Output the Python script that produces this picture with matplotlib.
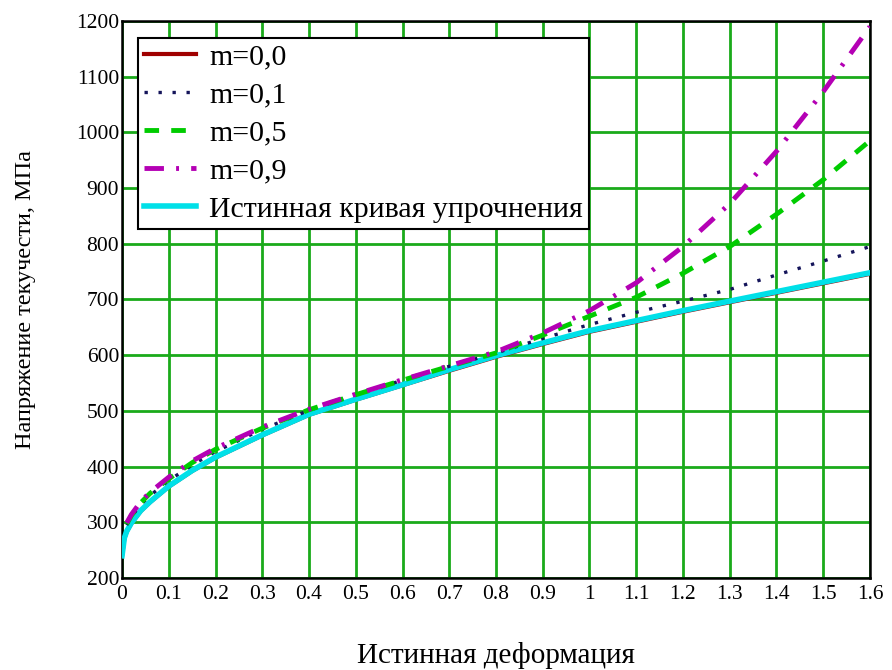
import matplotlib
matplotlib.use('Agg')
import matplotlib.pyplot as plt

plt.rcParams['font.family'] = ['Liberation Serif', 'DejaVu Serif']

# strain values (true curve / m=0 model)
eps_true = [0, 0.005, 0.01, 0.02, 0.04, 0.06, 0.1, 0.15, 0.2, 0.3, 0.4, 0.5,
            0.6, 0.7, 0.8, 0.9, 1.0, 1.1, 1.2, 1.3, 1.4, 1.5, 1.6]
sigma_true = [240, 272, 284, 299, 321, 337, 365, 393, 417, 457, 494, 521,
              547, 574, 599, 622, 644, 662, 680, 697, 714, 731, 748]
sigma_m00 = [239, 271, 283, 298, 320, 336, 364, 392, 416, 456, 493, 520,
             546, 572, 597, 620, 642, 660, 678, 695, 712, 729, 746]

# strain values for the other models
eps_m = [0.01, 0.02, 0.04, 0.06, 0.1, 0.15, 0.2, 0.3, 0.4, 0.5, 0.6, 0.7,
         0.8, 0.9, 1.0, 1.1, 1.2, 1.3, 1.4, 1.5, 1.6]
sigma_m01 = [295, 310, 332, 348, 375, 403, 427, 467, 501, 529, 555, 580,
             604, 630, 655, 677, 697, 718, 744, 769, 795]
sigma_m05 = [297, 312, 335, 352, 378, 407, 431, 469, 502, 529, 555, 580,
             604, 636, 670, 704, 747, 795, 853, 915, 985]
sigma_m09 = [299, 314, 337, 354, 381, 410, 433, 471, 503, 530, 556, 581,
             606, 640, 680, 730, 795, 872, 966, 1073, 1190]

x_ticks = [0, 0.1, 0.2, 0.3, 0.4, 0.5, 0.6, 0.7, 0.8, 0.9, 1.0, 1.1, 1.2,
           1.3, 1.4, 1.5, 1.6]
x_ticklabels = ['0', '0.1', '0.2', '0.3', '0.4', '0.5', '0.6', '0.7', '0.8',
                '0.9', '1', '1.1', '1.2', '1.3', '1.4', '1.5', '1.6']
y_ticks = [200, 300, 400, 500, 600, 700, 800, 900, 1000, 1100, 1200]

fig = plt.figure(figsize=(8.92, 6.7), dpi=100)
ax = fig.add_axes([0.1368, 0.1373, 0.8385, 0.8314])

ax.plot(eps_true, sigma_m00, color='#a00000', lw=3, label='m=0,0', zorder=3)
ax.plot(eps_m, sigma_m01, color='#14145a', lw=2.4, ls=(0, (1, 3.2)),
        label='m=0,1', zorder=4)
ax.plot(eps_m, sigma_m05, color='#00cc00', lw=3.5, ls=(0, (3, 2.5)),
        label='m=0,5', zorder=4)
ax.plot(eps_m, sigma_m09, color='#b400b4', lw=3.5, ls=(0, (4, 2.5, 0.6, 2.5)),
        label='m=0,9', zorder=4)
ax.plot(eps_true, sigma_true, color='#00e0e8', lw=4,
        label='Истинная кривая упрочнения', zorder=3.5)

ax.set_xlim(0, 1.6)
ax.set_ylim(200, 1200)
ax.set_xticks(x_ticks)
ax.set_xticklabels(x_ticklabels, fontsize=15.5)
ax.set_yticks(y_ticks)
ax.tick_params(axis='y', labelsize=15.5, pad=2)
ax.tick_params(axis='x', pad=5)
ax.tick_params(length=0)
ax.grid(True, color='#1aaa1a', lw=2, zorder=0)
ax.set_axisbelow(True)
for s in ax.spines.values():
    s.set_color('black')
    s.set_linewidth(1.8)

ax.set_xlabel('Истинная деформация', fontsize=21)
ax.set_ylabel('Напряжение текучести, МПа', fontsize=17.5)
ax.xaxis.set_label_coords(0.5, -0.114)
ax.yaxis.set_label_coords(-0.115, 0.5)

leg = ax.legend(loc='upper left', bbox_to_anchor=(0.021, 0.9695), fontsize=21.5,
                frameon=True, fancybox=False, framealpha=1, edgecolor='black',
                handlelength=1.75, labelspacing=0.37, borderpad=0.2,
                handletextpad=0.45, borderaxespad=0)
leg.get_frame().set_linewidth(1.5)

plt.savefig('out.png', dpi=100)
